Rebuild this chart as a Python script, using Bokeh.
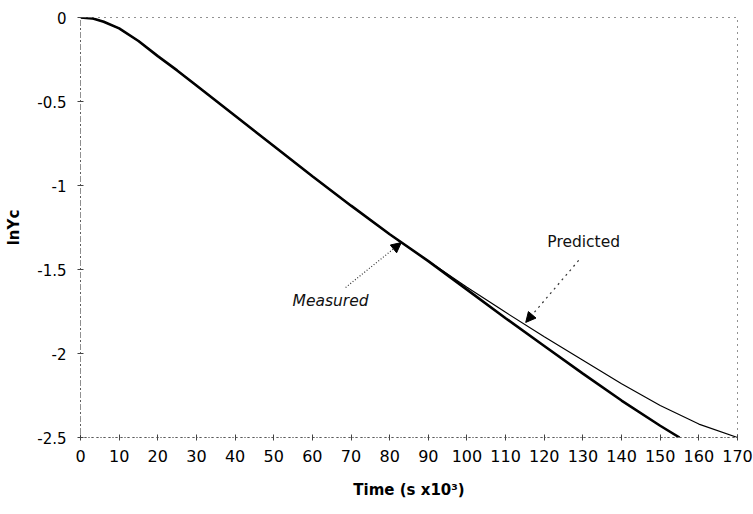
from bokeh.plotting import figure
from bokeh.models import Range1d, FixedTicker, Label, Arrow, NormalHead
from bokeh.embed import file_html
from bokeh.resources import INLINE

# ---- data ----
measured_x = [0, 3, 6, 10, 15, 20, 25, 30, 40, 50, 60, 70, 80, 90, 100, 110, 120, 130, 140, 150, 155]
measured_y = [0, -0.005, -0.025, -0.065, -0.14, -0.23, -0.315, -0.405, -0.585, -0.765, -0.945,
              -1.12, -1.29, -1.45, -1.62, -1.79, -1.955, -2.12, -2.28, -2.43, -2.50]

predicted_x = [0, 3, 6, 10, 15, 20, 25, 30, 40, 50, 60, 70, 80, 90, 100, 110, 120, 130, 140, 150, 160, 170]
predicted_y = [0, -0.005, -0.025, -0.065, -0.14, -0.23, -0.315, -0.405, -0.585, -0.765, -0.945,
               -1.12, -1.29, -1.45, -1.605, -1.755, -1.90, -2.04, -2.18, -2.31, -2.42, -2.50]

x_ticks = [0, 10, 20, 30, 40, 50, 60, 70, 80, 90, 100, 110, 120, 130, 140, 150, 160, 170]
y_ticks = [0, -0.5, -1, -1.5, -2, -2.5]
y_tick_labels = ["0", "-0.5", "-1", "-1.5", "-2", "-2.5"]

x_title = "Time (s x10\u00b3)"
y_title = "lnYc"

# annotation placement (data units)
measured_label = ("Measured", 64.7, -1.69)
measured_arrow = (68.6, -1.607, 83.0, -1.34)
predicted_label = ("Predicted", 130.2, -1.339)
predicted_arrow = (128.9, -1.446, 115.2, -1.815)

FONT = "DejaVu Sans"

p = figure(width=753, height=514, output_backend="svg", toolbar_location=None,
           x_range=Range1d(0, 170), y_range=Range1d(-2.5, 0),
           min_border_left=80, min_border_right=16, min_border_top=17, min_border_bottom=77)

p.background_fill_color = "white"
p.border_fill_color = "white"
p.xgrid.visible = False
p.ygrid.visible = False
p.outline_line_color = "#222222"
p.outline_line_dash = "1 5"
p.outline_line_width = 1

# axes
for ax in (p.xaxis, p.yaxis):
    ax.axis_line_color = "#222222"
    ax.axis_line_dash = "1 3"
    ax.major_tick_in = 3
    ax.major_tick_out = 3
    ax.major_tick_line_color = "#444444"
    ax.minor_tick_line_color = None
    ax.major_label_text_color = "black"
    ax.major_label_text_font = FONT
    ax.axis_label_text_font = FONT
    ax.axis_label_text_font_style = "bold"
    ax.axis_label_text_color = "black"

p.xaxis.ticker = FixedTicker(ticks=x_ticks)
p.yaxis.ticker = FixedTicker(ticks=y_ticks)
p.yaxis.major_label_overrides = {t: l for t, l in zip(y_ticks, y_tick_labels)}

p.xaxis.major_label_text_font_size = "16px"
p.yaxis.major_label_text_font_size = "15px"
p.xaxis.major_label_standoff = 9
p.yaxis.major_label_standoff = 11
p.xaxis.axis_label = x_title
p.yaxis.axis_label = y_title
p.xaxis.axis_label_text_font_size = "15px"
p.yaxis.axis_label_text_font_size = "15px"
p.xaxis.axis_label_standoff = 16
p.yaxis.axis_label_standoff = 11

# curves
p.line(measured_x, measured_y, line_color="black", line_width=2.6)
p.line(predicted_x, predicted_y, line_color="black", line_width=1.2)

# annotations
for (txt, lx, ly) in (measured_label, predicted_label):
    p.add_layout(Label(x=lx, y=ly, text=txt, text_font=FONT, text_font_style="italic" if txt == "Measured" else "normal",
                       text_font_size="15.5px", text_align="center", text_baseline="middle",
                       text_color="#111111"))

p.add_layout(Arrow(end=NormalHead(size=10, fill_color="black", line_color="black"),
                   x_start=measured_arrow[0], y_start=measured_arrow[1],
                   x_end=measured_arrow[2], y_end=measured_arrow[3],
                   line_color="#333333", line_width=1.2, line_dash="1 2"))
p.add_layout(Arrow(end=NormalHead(size=10, fill_color="black", line_color="black"),
                   x_start=predicted_arrow[0], y_start=predicted_arrow[1],
                   x_end=predicted_arrow[2], y_end=predicted_arrow[3],
                   line_color="#333333", line_width=1.2, line_dash="2 4"))

open("out.html", "w").write(file_html(p, INLINE))
